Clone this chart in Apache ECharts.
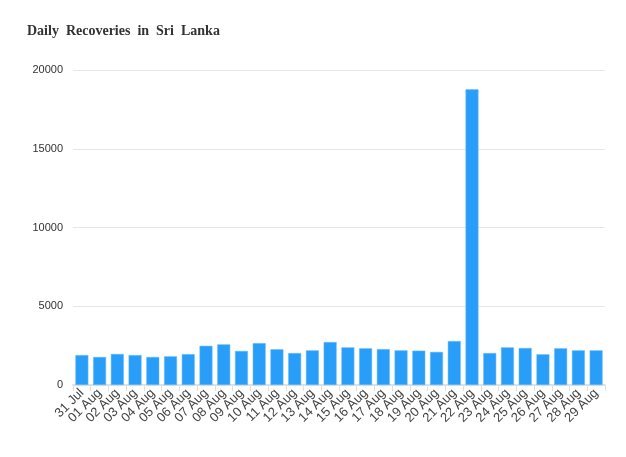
<!DOCTYPE html>
<html>
<head>
<meta charset="utf-8">
<script src="https://cdn.jsdelivr.net/npm/echarts@6/dist/echarts.min.js"></script>
<style>html,body{margin:0;padding:0;background:#fff}#c{width:626px;height:457px}</style>
</head>
<body>
<div id="c"></div>
<script>
var categories = ["31 Jul","01 Aug","02 Aug","03 Aug","04 Aug","05 Aug","06 Aug","07 Aug","08 Aug","09 Aug","10 Aug","11 Aug","12 Aug","13 Aug","14 Aug","15 Aug","16 Aug","17 Aug","18 Aug","19 Aug","20 Aug","21 Aug","22 Aug","23 Aug","24 Aug","25 Aug","26 Aug","27 Aug","28 Aug","29 Aug"];
var recoveries = [1900,1780,1970,1900,1780,1820,1960,2490,2580,2160,2660,2270,2030,2200,2730,2390,2330,2280,2200,2180,2100,2790,18770,2030,2390,2350,1950,2330,2200,2200];
var yTicks = [0,5000,10000,15000,20000];

var chart = echarts.init(document.getElementById('c'));
chart.setOption({
  animation: false,
  backgroundColor: '#fff',
  title: {
    text: 'Daily  Recoveries  in  Sri  Lanka',
    left: 22, top: 19,
    textStyle: {fontFamily: 'Liberation Serif', fontWeight: 'bold', fontSize: 14, color: '#333'}
  },
  grid: {left: 73, right: 21, top: 70, bottom: 72, containLabel: false},
  xAxis: {
    type: 'category',
    data: categories,
    axisLine: {lineStyle: {color: '#e0e0e0', width: 2}},
    axisTick: {show: true, alignWithLabel: false, length: 6, lineStyle: {color: '#e0e0e0'}},
    axisLabel: {rotate: 45, interval: 0, fontSize: 13, color: '#444', fontFamily: 'Liberation Sans', margin: 6}
  },
  yAxis: {
    type: 'value',
    min: yTicks[0], max: yTicks[yTicks.length - 1], interval: 5000,
    axisLine: {show: false},
    axisTick: {show: false},
    splitLine: {lineStyle: {color: '#e6e6e6', width: 1}},
    axisLabel: {fontSize: 11, color: '#333', fontFamily: 'Liberation Sans', margin: 10,
      formatter: function (v) { return String(v); }}
  },
  series: [{
    type: 'bar',
    data: recoveries,
    barWidth: '73%',
    itemStyle: {color: '#289ef9', borderColor: '#6bbcfb', borderWidth: 0.5}
  }]
});
</script>
</body>
</html>
